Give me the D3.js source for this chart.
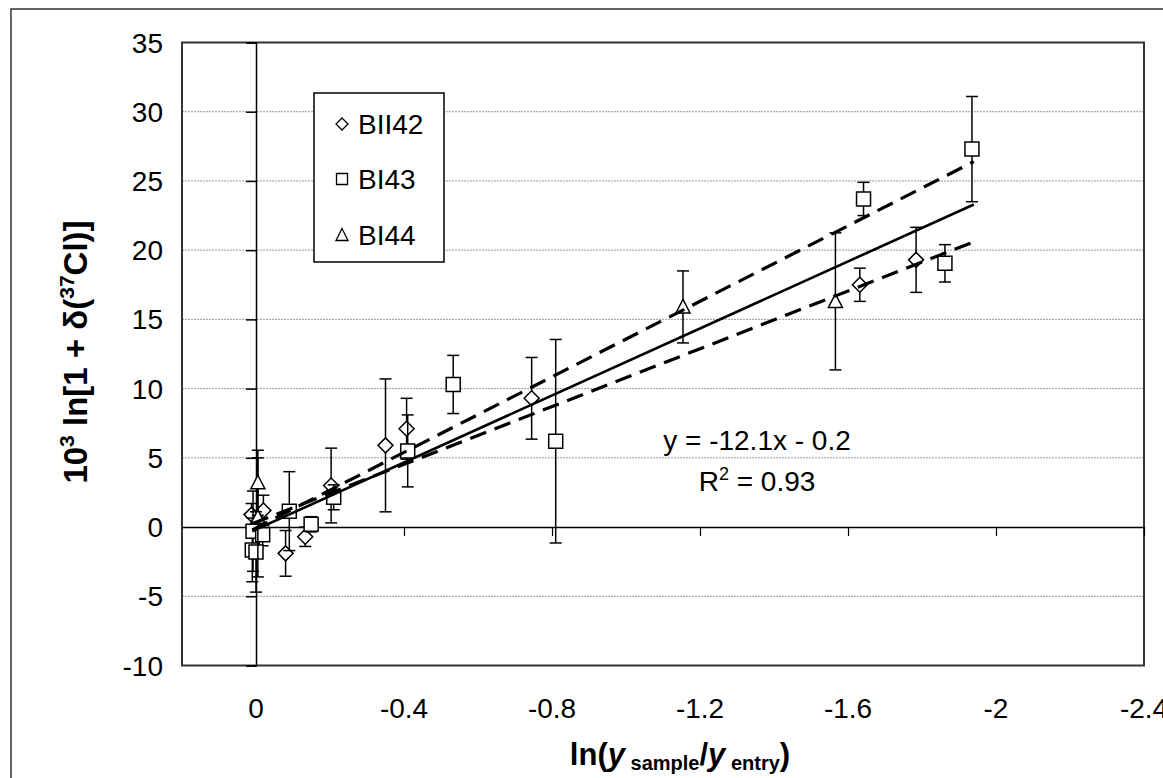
<!DOCTYPE html>
<html>
<head>
<meta charset="utf-8">
<script src="https://cdn.jsdelivr.net/npm/d3@7"></script>
<style>
  body { margin: 0; background: #fff; }
  svg { display: block; font-family: "Liberation Sans", Arial, sans-serif; }
</style>
</head>
<body>
<svg id="mysvg" width="1163" height="778"></svg>
<script>
// BII42 (diamonds)
let bii42X = [0.012, -0.02, -0.08, -0.133, -0.203, -0.35, -0.407, -0.745, -1.632, -1.784];
let bii42Y = [0.9, 1.2, -1.9, -0.7, 3.0, 5.9, 7.1, 9.3, 17.5, 19.3];
let bii42Err = [0.8, 1.1, 1.65, 0.7, 2.7, 4.8, 2.2, 2.95, 1.2, 2.35];

// BI43 (squares)
let bi43X = [0.008, -0.018, 0.01, 0.0, -0.09, -0.149, -0.21, -0.41, -0.533, -0.81, -1.642, -1.862, -1.935];
let bi43Y = [-0.3, -0.55, -1.65, -1.8, 1.15, 0.2, 2.15, 5.5, 10.3, 6.2, 23.7, 19.05, 27.3];
let bi43Err = [2.9, 0.8, 2.3, 2.9, 2.85, 0.55, 0.9, 2.6, 2.1, 7.35, 1.2, 1.35, 3.8];

// BI44 (triangles)
let bi44X = [-0.005, -0.005, -1.154, -1.566];
let bi44Y = [3.2, 0.7, 15.9, 16.3];
let bi44Err = [2.35, 4.3, 2.6, 4.95];

// regression line and bounds, read at both ends
let lineX = [0.01, -1.94];
let fitY = [-0.3, 23.3];
let upperY = [-0.2, 26.4];
let lowerY = [0.25, 20.6];

let xTicks = [0, -0.4, -0.8, -1.2, -1.6, -2, -2.4];
let yTicks = [-10, -5, 0, 5, 10, 15, 20, 25, 30, 35];

let seriesNames = ["BII42", "BI43", "BI44"];

function draw() {
    var svg = d3.select("#mysvg");

    var x = d3.scaleLinear().domain([0.2, -2.4]).range([182, 1144]);
    var y = d3.scaleLinear().domain([-10, 35]).range([665.5, 42.5]);

    // outer chart border
    svg.append("rect")
        .attr("x", 11).attr("y", 9)
        .attr("width", 1200).attr("height", 800)
        .attr("fill", "none").attr("stroke", "#000").attr("stroke-width", 1.2);

    // gridlines
    svg.append("g")
        .selectAll("line")
        .data(yTicks.filter(function(d){ return d != -10 && d != 35 && d != 0; }))
        .enter().append("line")
        .attr("x1", x(0.2)).attr("x2", x(-2.4))
        .attr("y1", function(d){ return y(d); })
        .attr("y2", function(d){ return y(d); })
        .attr("stroke", "#9a9a9a")
        .attr("stroke-width", 1)
        .attr("stroke-dasharray", "2,1");

    // plot area border
    svg.append("rect")
        .attr("x", x(0.2)).attr("y", y(35))
        .attr("width", x(-2.4) - x(0.2))
        .attr("height", y(-10) - y(35))
        .attr("fill", "none")
        .attr("stroke", "#333")
        .attr("stroke-width", 2);

    // y axis at x = 0
    var yAxis = svg.append("g")
        .attr("transform", "translate(" + x(0) + ",0)")
        .call(d3.axisLeft(y).tickValues(yTicks).tickSize(10).tickFormat(""));
    yAxis.select(".domain").attr("stroke", "#000").attr("stroke-width", 1.5);
    yAxis.selectAll(".tick line").attr("stroke", "#000").attr("stroke-width", 1.5);

    // x axis at y = 0
    var xAxis = svg.append("g")
        .attr("transform", "translate(0," + y(0) + ")")
        .call(d3.axisBottom(x).tickValues(xTicks).tickSize(9).tickFormat("").tickSizeOuter(0));
    xAxis.select(".domain").attr("stroke", "#000").attr("stroke-width", 1.5);
    xAxis.selectAll(".tick line").attr("stroke", "#000").attr("stroke-width", 1.2);

    // tick labels
    svg.append("g")
        .selectAll("text")
        .data(yTicks)
        .enter().append("text")
        .attr("x", 163)
        .attr("y", function(d){ return y(d); })
        .attr("dy", "0.36em")
        .attr("text-anchor", "end")
        .attr("font-size", "28px")
        .text(function(d){ return d; });

    svg.append("g")
        .selectAll("text")
        .data(xTicks)
        .enter().append("text")
        .attr("x", function(d){ return x(d); })
        .attr("y", 718)
        .attr("text-anchor", "middle")
        .attr("font-size", "28px")
        .text(function(d){ return d; });

    // axis titles
    var yt = svg.append("text")
        .attr("transform", "translate(87,352) rotate(-90)")
        .attr("text-anchor", "middle")
        .attr("font-size", "33px")
        .attr("font-weight", "bold");
    yt.append("tspan").text("10");
    yt.append("tspan").attr("font-size", "21px").attr("dy", "-13").text("3");
    yt.append("tspan").attr("dy", "13").text(" ln[1 + δ(");
    yt.append("tspan").attr("font-size", "21px").attr("dy", "-13").text("37");
    yt.append("tspan").attr("dy", "13").text("Cl)]");

    var xt = svg.append("text")
        .attr("x", 680).attr("y", 765)
        .attr("text-anchor", "middle")
        .attr("font-size", "31px")
        .attr("font-weight", "bold");
    xt.append("tspan").text("ln(");
    xt.append("tspan").attr("font-style", "italic").text("y");
    xt.append("tspan").attr("font-size", "20px").attr("dy", "5").text(" sample");
    xt.append("tspan").attr("dy", "-5").text("/");
    xt.append("tspan").attr("font-style", "italic").text("y");
    xt.append("tspan").attr("font-size", "20px").attr("dy", "5").text(" entry");
    xt.append("tspan").attr("dy", "-5").text(")");

    // data
    var diamond = "M0,-7.5L7.5,0L0,7.5L-7.5,0Z";
    var square = "M-7,-7h14v14h-14Z";
    var triangle = "M0,-7.5L7,6L-7,6Z";

    var series = [
        { xs: bii42X, ys: bii42Y, es: bii42Err, shape: diamond },
        { xs: bi43X, ys: bi43Y, es: bi43Err, shape: square },
        { xs: bi44X, ys: bi44Y, es: bi44Err, shape: triangle }
    ];

    series.forEach(function(s) {
        var pts = s.xs.map(function(v, i){ return { x: v, y: s.ys[i], e: s.es[i] }; });
        var eg = svg.append("g").attr("stroke", "#000").attr("stroke-width", 1.5);
        pts.forEach(function(p) {
            eg.append("line")
                .attr("x1", x(p.x)).attr("x2", x(p.x))
                .attr("y1", y(p.y + p.e)).attr("y2", y(p.y - p.e));
            eg.append("line")
                .attr("x1", x(p.x) - 6).attr("x2", x(p.x) + 6)
                .attr("y1", y(p.y + p.e)).attr("y2", y(p.y + p.e));
            eg.append("line")
                .attr("x1", x(p.x) - 6).attr("x2", x(p.x) + 6)
                .attr("y1", y(p.y - p.e)).attr("y2", y(p.y - p.e));
        });
        svg.append("g")
            .selectAll("path")
            .data(pts)
            .enter().append("path")
            .attr("d", s.shape)
            .attr("transform", function(d){ return "translate(" + x(d.x) + "," + y(d.y) + ")"; })
            .attr("fill", "#fff")
            .attr("stroke", "#000")
            .attr("stroke-width", 1.5);
    });

    // fit line and bounds
    var line = d3.line()
        .x(function(d){ return x(d[0]); })
        .y(function(d){ return y(d[1]); });

    [upperY, lowerY].forEach(function(ys) {
        svg.append("path")
            .datum(lineX.map(function(v, i){ return [v, ys[i]]; }))
            .attr("fill", "none")
            .attr("stroke", "#000")
            .attr("stroke-width", 3.2)
            .attr("stroke-dasharray", "17,9")
            .attr("d", line);
    });

    svg.append("path")
        .datum(lineX.map(function(v, i){ return [v, fitY[i]]; }))
        .attr("fill", "none")
        .attr("stroke", "#000")
        .attr("stroke-width", 2.6)
        .attr("d", line);

    // equation
    svg.append("text")
        .attr("x", 757).attr("y", 450)
        .attr("text-anchor", "middle")
        .attr("font-size", "28px")
        .text("y = -12.1x - 0.2");
    var r2 = svg.append("text")
        .attr("x", 757).attr("y", 491)
        .attr("text-anchor", "middle")
        .attr("font-size", "28px");
    r2.append("tspan").text("R");
    r2.append("tspan").attr("font-size", "18px").attr("dy", "-11").text("2");
    r2.append("tspan").attr("dy", "11").text(" = 0.93");

    // legend
    var lg = svg.append("g");
    lg.append("rect")
        .attr("x", 314).attr("y", 93)
        .attr("width", 130).attr("height", 169)
        .attr("fill", "#fff")
        .attr("stroke", "#000")
        .attr("stroke-width", 1.5);
    var legendShapes = ["M0,-6L6,0L0,6L-6,0Z", "M-5.5,-5.5h11v11h-11Z", "M0,-6.5L6,5.5L-6,5.5Z"];
    var legendY = [124, 179, 235];
    seriesNames.forEach(function(name, i) {
        lg.append("path")
            .attr("d", legendShapes[i])
            .attr("transform", "translate(342," + legendY[i] + ")")
            .attr("fill", "#fff")
            .attr("stroke", "#000")
            .attr("stroke-width", 1.3);
        lg.append("text")
            .attr("x", 358).attr("y", legendY[i] + 10)
            .attr("font-size", "28px")
            .text(name);
    });
}

draw();
</script>
</body>
</html>
